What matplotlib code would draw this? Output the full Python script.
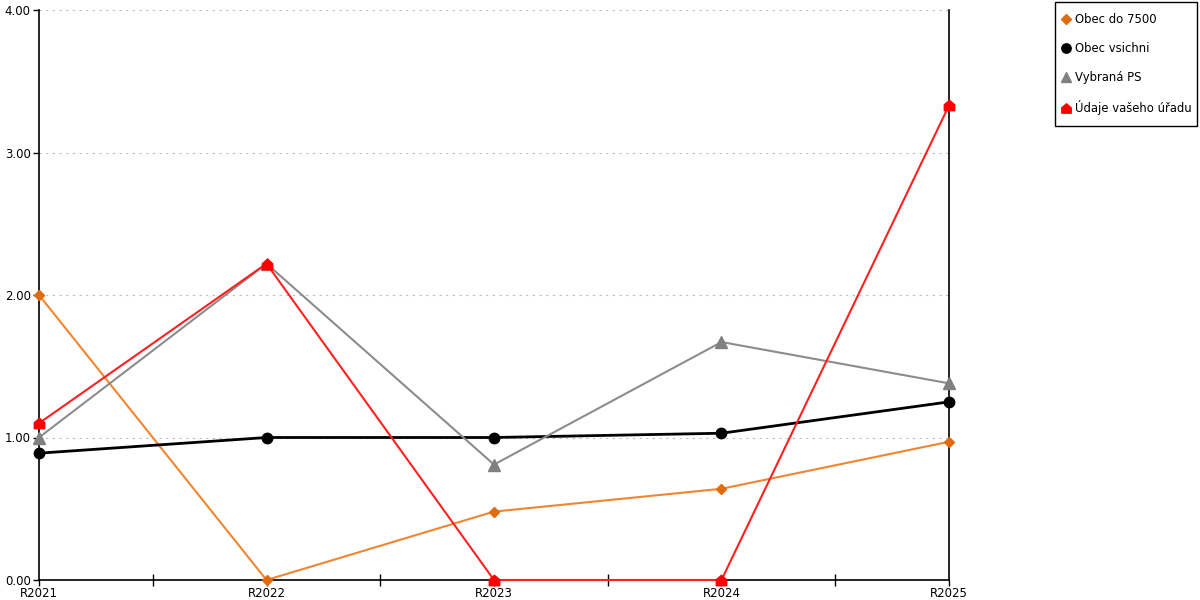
import matplotlib
matplotlib.use("Agg")
import matplotlib.pyplot as plt
from matplotlib.path import Path
from matplotlib.patches import Rectangle
from matplotlib.ticker import MultipleLocator, FixedLocator

categories = ["R2021", "R2022", "R2023", "R2024", "R2025"]
obec_do_7500 = [2.00, 0.00, 0.48, 0.64, 0.97]
obec_vsichni = [0.89, 1.00, 1.00, 1.03, 1.25]
vybrana_ps = [1.00, 2.22, 0.81, 1.67, 1.38]
udaje_uradu = [1.10, 2.22, 0.00, 0.00, 3.33]

# house-shaped marker (square with roof)
house = Path([(-1, -1), (1, -1), (1, 0.15), (0, 1), (-1, 0.15), (-1, -1)],
             [Path.MOVETO, Path.LINETO, Path.LINETO, Path.LINETO, Path.LINETO, Path.CLOSEPOLY])

fig = plt.figure(figsize=(12, 6), dpi=100)
ax = fig.add_axes([39/1200, 20/600, 910/1200, 570/600])

x = list(range(len(categories)))

ax.plot(x, obec_do_7500, color="#F08532", lw=1.5, marker="D", ms=5.5,
        mfc="#E06C10", mec="#E06C10", label="Obec do 7500", clip_on=False, zorder=3)
ax.plot(x, obec_vsichni, color="black", lw=2, marker="o", ms=7.5,
        mfc="black", mec="black", label="Obec vsichni", clip_on=False, zorder=3)
ax.plot(x, vybrana_ps, color="#8C8C8C", lw=1.5, marker="^", ms=8.5,
        mfc="#808080", mec="#808080", label="Vybraná PS", clip_on=False, zorder=3)
ax.plot(x, udaje_uradu, color="#FF2020", lw=1.5, marker=house, ms=7.5,
        mfc="red", mec="red", label="Údaje vašeho úřadu", clip_on=False, zorder=4)

ax.set_xlim(0, len(categories) - 1)
ax.set_ylim(0, 4)
ax.set_xticks(x)
ax.set_xticklabels(categories)
ax.xaxis.set_minor_locator(FixedLocator([i + 0.5 for i in x[:-1]]))
ax.yaxis.set_major_locator(MultipleLocator(1))
ax.set_yticklabels(["%.2f" % v for v in ax.get_yticks()])

ax.tick_params(axis="both", labelsize=8.5, length=4, width=1, pad=2)
ax.tick_params(axis="x", which="minor", direction="inout", length=8, width=1)
ax.tick_params(axis="x", which="major", pad=1)

ax.grid(axis="y", color="#BBBBBB", linestyle=(0, (2, 4)), lw=0.8)
ax.spines["top"].set_visible(False)
for s in ["left", "right", "bottom"]:
    ax.spines[s].set_linewidth(1.2)
    ax.spines[s].set_zorder(2)

# legend frame drawn separately so the padding can differ per side
fig.patches.append(Rectangle((1055/1200, 1 - 126/600), 142/1200, 124/600,
                             transform=fig.transFigure, fill=False,
                             edgecolor="black", lw=1))
leg = fig.legend(loc="upper left", bbox_to_anchor=(1062/1200, 1 - 13/600), fontsize=8.4,
                 frameon=False, handlelength=0.7, handletextpad=0.4,
                 labelspacing=1.37, borderpad=0, borderaxespad=0, markerscale=0.9)
for h in leg.get_lines():
    h.set_linestyle("none")

fig.savefig("out.png", dpi=100)
